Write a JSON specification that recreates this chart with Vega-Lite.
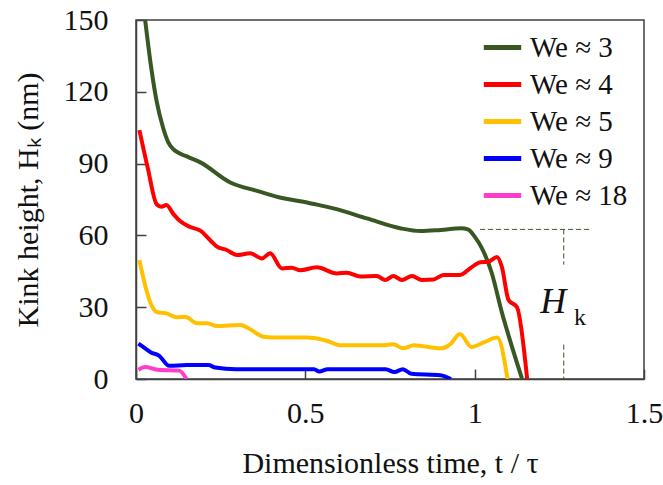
{
  "$schema": "https://vega.github.io/schema/vega-lite/v6.json",
  "autosize": "none",
  "padding": {"left": 136, "top": 20, "right": 19, "bottom": 106},
  "width": 508,
  "height": 359,
  "background": "white",
  "config": {
    "font": "Liberation Serif",
    "view": {"stroke": "#404040", "strokeWidth": 1.5},
    "axis": {
      "grid": false,
      "domainColor": "#404040",
      "domainWidth": 1.5,
      "tickColor": "#404040",
      "tickWidth": 1.5,
      "tickSize": -10,
      "labelFlush": false,
      "labelFont": "Liberation Serif",
      "labelFontSize": 30,
      "labelColor": "#111111",
      "titleFont": "Liberation Serif",
      "titleFontSize": 30,
      "titleFontWeight": "normal",
      "titleColor": "#111111"
    },
    "legend": {
      "labelFont": "Liberation Serif",
      "labelFontSize": 29,
      "labelColor": "#111111"
    }
  },
  "layer": [
    {
      "data": {
        "values": [
          {"t": 0.027, "h": 150, "series": "We ≈ 3"},
          {"t": 0.045, "h": 130, "series": "We ≈ 3"},
          {"t": 0.061, "h": 116, "series": "We ≈ 3"},
          {"t": 0.08, "h": 105, "series": "We ≈ 3"},
          {"t": 0.095, "h": 99, "series": "We ≈ 3"},
          {"t": 0.11, "h": 96, "series": "We ≈ 3"},
          {"t": 0.15, "h": 93, "series": "We ≈ 3"},
          {"t": 0.19, "h": 90.5, "series": "We ≈ 3"},
          {"t": 0.28, "h": 82, "series": "We ≈ 3"},
          {"t": 0.36, "h": 78.5, "series": "We ≈ 3"},
          {"t": 0.435, "h": 75.5, "series": "We ≈ 3"},
          {"t": 0.485, "h": 74.3, "series": "We ≈ 3"},
          {"t": 0.53, "h": 73, "series": "We ≈ 3"},
          {"t": 0.583, "h": 71.3, "series": "We ≈ 3"},
          {"t": 0.682, "h": 67.1, "series": "We ≈ 3"},
          {"t": 0.78, "h": 63, "series": "We ≈ 3"},
          {"t": 0.84, "h": 61.8, "series": "We ≈ 3"},
          {"t": 0.9, "h": 62.3, "series": "We ≈ 3"},
          {"t": 0.96, "h": 63, "series": "We ≈ 3"},
          {"t": 0.98, "h": 62.5, "series": "We ≈ 3"},
          {"t": 1.0, "h": 59.5, "series": "We ≈ 3"},
          {"t": 1.02, "h": 55, "series": "We ≈ 3"},
          {"t": 1.05, "h": 44.5, "series": "We ≈ 3"},
          {"t": 1.08, "h": 28, "series": "We ≈ 3"},
          {"t": 1.11, "h": 13.5, "series": "We ≈ 3"},
          {"t": 1.14, "h": 0, "series": "We ≈ 3"},

          {"t": 0.01, "h": 104, "series": "We ≈ 4"},
          {"t": 0.035, "h": 88, "series": "We ≈ 4"},
          {"t": 0.061, "h": 73, "series": "We ≈ 4"},
          {"t": 0.075, "h": 72, "series": "We ≈ 4"},
          {"t": 0.09, "h": 72.7, "series": "We ≈ 4"},
          {"t": 0.11, "h": 69, "series": "We ≈ 4"},
          {"t": 0.13, "h": 66, "series": "We ≈ 4"},
          {"t": 0.16, "h": 63.5, "series": "We ≈ 4"},
          {"t": 0.19, "h": 62, "series": "We ≈ 4"},
          {"t": 0.219, "h": 58, "series": "We ≈ 4"},
          {"t": 0.239, "h": 55.3, "series": "We ≈ 4"},
          {"t": 0.268, "h": 53.9, "series": "We ≈ 4"},
          {"t": 0.298, "h": 51.8, "series": "We ≈ 4"},
          {"t": 0.337, "h": 52.5, "series": "We ≈ 4"},
          {"t": 0.372, "h": 50.4, "series": "We ≈ 4"},
          {"t": 0.396, "h": 52.5, "series": "We ≈ 4"},
          {"t": 0.431, "h": 46.2, "series": "We ≈ 4"},
          {"t": 0.46, "h": 46.5, "series": "We ≈ 4"},
          {"t": 0.485, "h": 45.4, "series": "We ≈ 4"},
          {"t": 0.534, "h": 46.7, "series": "We ≈ 4"},
          {"t": 0.593, "h": 44.1, "series": "We ≈ 4"},
          {"t": 0.623, "h": 44.4, "series": "We ≈ 4"},
          {"t": 0.662, "h": 42.8, "series": "We ≈ 4"},
          {"t": 0.711, "h": 43, "series": "We ≈ 4"},
          {"t": 0.736, "h": 41.4, "series": "We ≈ 4"},
          {"t": 0.76, "h": 43, "series": "We ≈ 4"},
          {"t": 0.785, "h": 41.4, "series": "We ≈ 4"},
          {"t": 0.815, "h": 43, "series": "We ≈ 4"},
          {"t": 0.844, "h": 41.4, "series": "We ≈ 4"},
          {"t": 0.879, "h": 41.6, "series": "We ≈ 4"},
          {"t": 0.908, "h": 43.5, "series": "We ≈ 4"},
          {"t": 0.957, "h": 43.5, "series": "We ≈ 4"},
          {"t": 0.987, "h": 46.3, "series": "We ≈ 4"},
          {"t": 1.017, "h": 48.8, "series": "We ≈ 4"},
          {"t": 1.04, "h": 49, "series": "We ≈ 4"},
          {"t": 1.066, "h": 51, "series": "We ≈ 4"},
          {"t": 1.08, "h": 47, "series": "We ≈ 4"},
          {"t": 1.1, "h": 33, "series": "We ≈ 4"},
          {"t": 1.125, "h": 30, "series": "We ≈ 4"},
          {"t": 1.155, "h": 0, "series": "We ≈ 4"},

          {"t": 0.01, "h": 49.7, "series": "We ≈ 5"},
          {"t": 0.031, "h": 37, "series": "We ≈ 5"},
          {"t": 0.045, "h": 31, "series": "We ≈ 5"},
          {"t": 0.061, "h": 28, "series": "We ≈ 5"},
          {"t": 0.09, "h": 27.4, "series": "We ≈ 5"},
          {"t": 0.12, "h": 25.8, "series": "We ≈ 5"},
          {"t": 0.145, "h": 26, "series": "We ≈ 5"},
          {"t": 0.18, "h": 23.3, "series": "We ≈ 5"},
          {"t": 0.21, "h": 23.3, "series": "We ≈ 5"},
          {"t": 0.239, "h": 22.1, "series": "We ≈ 5"},
          {"t": 0.308, "h": 22.6, "series": "We ≈ 5"},
          {"t": 0.332, "h": 21.2, "series": "We ≈ 5"},
          {"t": 0.376, "h": 17.7, "series": "We ≈ 5"},
          {"t": 0.426, "h": 17.3, "series": "We ≈ 5"},
          {"t": 0.507, "h": 17.3, "series": "We ≈ 5"},
          {"t": 0.557, "h": 16.2, "series": "We ≈ 5"},
          {"t": 0.608, "h": 14.1, "series": "We ≈ 5"},
          {"t": 0.729, "h": 14.1, "series": "We ≈ 5"},
          {"t": 0.76, "h": 14.5, "series": "We ≈ 5"},
          {"t": 0.789, "h": 12.8, "series": "We ≈ 5"},
          {"t": 0.82, "h": 14.1, "series": "We ≈ 5"},
          {"t": 0.9, "h": 12.8, "series": "We ≈ 5"},
          {"t": 0.93, "h": 14.8, "series": "We ≈ 5"},
          {"t": 0.956, "h": 18.8, "series": "We ≈ 5"},
          {"t": 0.991, "h": 13.4, "series": "We ≈ 5"},
          {"t": 1.03, "h": 15.5, "series": "We ≈ 5"},
          {"t": 1.067, "h": 17.3, "series": "We ≈ 5"},
          {"t": 1.097, "h": 0, "series": "We ≈ 5"},

          {"t": 0.007, "h": 14.8, "series": "We ≈ 9"},
          {"t": 0.03, "h": 12.5, "series": "We ≈ 9"},
          {"t": 0.043, "h": 11.2, "series": "We ≈ 9"},
          {"t": 0.068, "h": 9.8, "series": "We ≈ 9"},
          {"t": 0.098, "h": 5.5, "series": "We ≈ 9"},
          {"t": 0.15, "h": 5.8, "series": "We ≈ 9"},
          {"t": 0.214, "h": 5.8, "series": "We ≈ 9"},
          {"t": 0.234, "h": 4.8, "series": "We ≈ 9"},
          {"t": 0.295, "h": 4.1, "series": "We ≈ 9"},
          {"t": 0.526, "h": 4.1, "series": "We ≈ 9"},
          {"t": 0.541, "h": 3.1, "series": "We ≈ 9"},
          {"t": 0.566, "h": 4.1, "series": "We ≈ 9"},
          {"t": 0.737, "h": 4.1, "series": "We ≈ 9"},
          {"t": 0.763, "h": 2.9, "series": "We ≈ 9"},
          {"t": 0.788, "h": 4.1, "series": "We ≈ 9"},
          {"t": 0.813, "h": 2.2, "series": "We ≈ 9"},
          {"t": 0.899, "h": 1.6, "series": "We ≈ 9"},
          {"t": 0.93, "h": 0, "series": "We ≈ 9"},

          {"t": 0.007, "h": 3.9, "series": "We ≈ 18"},
          {"t": 0.027, "h": 5, "series": "We ≈ 18"},
          {"t": 0.063, "h": 3.9, "series": "We ≈ 18"},
          {"t": 0.128, "h": 3.5, "series": "We ≈ 18"},
          {"t": 0.149, "h": 0, "series": "We ≈ 18"}
        ]
      },
      "mark": {"type": "line", "strokeWidth": 4, "clip": true, "interpolate": "monotone"},
      "encoding": {
        "x": {
          "field": "t",
          "type": "quantitative",
          "scale": {"domain": [0, 1.5], "nice": false},
          "axis": {
            "values": [0, 0.5, 1, 1.5],
            "format": "~g",
            "labelPadding": 29,
            "title": "Dimensionless time, t / τ",
            "titlePadding": 20
          }
        },
        "y": {
          "field": "h",
          "type": "quantitative",
          "scale": {"domain": [0, 150], "nice": false},
          "axis": {
            "values": [0, 30, 60, 90, 120, 150],
            "labelPadding": 38,
            "title": "Kink height, Hₖ (nm)",
            "titlePadding": 20
          }
        },
        "color": {
          "field": "series",
          "type": "nominal",
          "scale": {
            "domain": ["We ≈ 3", "We ≈ 4", "We ≈ 5", "We ≈ 9", "We ≈ 18"],
            "range": ["#385723", "#ff0000", "#ffc000", "#0000ff", "#ff3ccc"]
          },
          "legend": {
            "title": null,
            "orient": "none",
            "legendX": 345,
            "legendY": 6,
            "padding": 0,
            "symbolType": "stroke",
            "symbolSize": 1400,
            "symbolStrokeWidth": 5,
            "labelOffset": 6,
            "rowPadding": -0.5
          }
        }
      }
    },
    {
      "data": {
        "values": [
          {"x": 1.016, "x2": 1.342, "y": 62.5, "y2": 62.5},
          {"x": 1.263, "x2": 1.263, "y": 62.5, "y2": 47.8},
          {"x": 1.263, "x2": 1.263, "y": 14.4, "y2": 0}
        ]
      },
      "mark": {"type": "rule", "color": "#385723", "strokeWidth": 1, "strokeDash": [5, 3]},
      "encoding": {
        "x": {"field": "x", "type": "quantitative"},
        "x2": {"field": "x2"},
        "y": {"field": "y", "type": "quantitative"},
        "y2": {"field": "y2"}
      }
    },
    {
      "data": {"values": [{"x": 1.232, "y": 32, "label": "H"}]},
      "mark": {"type": "text", "font": "Liberation Serif", "fontStyle": "italic", "fontSize": 36, "color": "#111111"},
      "encoding": {
        "x": {"field": "x", "type": "quantitative"},
        "y": {"field": "y", "type": "quantitative"},
        "text": {"field": "label"}
      }
    },
    {
      "data": {"values": [{"x": 1.311, "y": 25.5, "label": "k"}]},
      "mark": {"type": "text", "font": "Liberation Serif", "fontSize": 24, "color": "#111111"},
      "encoding": {
        "x": {"field": "x", "type": "quantitative"},
        "y": {"field": "y", "type": "quantitative"},
        "text": {"field": "label"}
      }
    }
  ]
}
